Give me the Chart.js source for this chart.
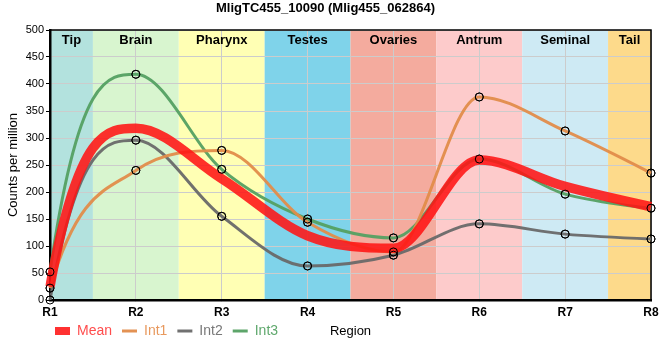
<!DOCTYPE html>
<html>
<head>
<meta charset="utf-8">
<script src="https://cdn.jsdelivr.net/npm/chart.js@4"></script>
<style>
html,body{margin:0;padding:0;background:#fff;}
</style>
</head>
<body>
<canvas id="chart" width="660" height="360"></canvas>
<script>

// =====================
// DATA
// =====================

const regions = ["R1","R2","R3","R4","R5","R6","R7","R8"];
const tissues = ["Tip","Brain","Pharynx","Testes","Ovaries","Antrum","Seminal","Tail"];

const meanVals = [24.7, 318, 224.7, 119, 95.7, 259.3, 210.3, 172.7];
const int1Vals = [22, 240, 277, 144, 89, 376, 313, 235];
const int2Vals = [0, 296, 155, 63, 83, 141, 122, 113];
const int3Vals = [52, 418, 242, 150, 115, 261, 196, 170];

const tissueColors = ["#b3e2de","#d8f5cf","#ffffb4","#7fd3ea","#f4ab9e","#fdcbcb","#ceeaf4","#fdda8b"];

const FONT = "'Liberation Sans', Arial, sans-serif";


// =====================
// SMOOTHING
// =====================

// control points 1/3 of the way to the neighbours, made parallel,
// and clamped so no false peaks appear between points
function controls(p0, p1, p2){
  const a = 1/3;
  let lx = p1.x + a*(p0.x-p1.x), ly = p1.y + a*(p0.y-p1.y);
  let rx = p1.x + a*(p2.x-p1.x), ry = p1.y + a*(p2.y-p1.y);
  if(lx !== rx){
    const d = p1.y - ry - (p1.x-rx)*(ly-ry)/(lx-rx);
    ly += d; ry += d;
  }
  if(ly > p0.y && ly > p1.y){ ly = Math.max(p0.y,p1.y); ry = 2*p1.y-ly; }
  else if(ly < p0.y && ly < p1.y){ ly = Math.min(p0.y,p1.y); ry = 2*p1.y-ly; }
  if(ry > p2.y && ry > p1.y){ ry = Math.max(p1.y,p2.y); ly = 2*p1.y-ry; }
  else if(ry < p2.y && ry < p1.y){ ry = Math.min(p1.y,p2.y); ly = 2*p1.y-ry; }
  return [lx,ly,rx,ry];
}

function smooth(pts){
  pts.forEach((p,i)=>{
    const prev = pts[i-1], next = pts[i+1];
    let c = (prev && next) ? controls(prev,p,next) : [p.x,p.y,p.x,p.y];
    p.cp1x = c[0]; p.cp1y = c[1];
    p.cp2x = c[2]; p.cp2y = c[3];
  });
  // first segment leaves at the height of the next control point
  if(pts.length > 2){
    pts[0].cp2x = pts[0].x + (pts[1].x-pts[0].x)/3;
    pts[0].cp2y = pts[1].cp1y;
  }
}


// =====================
// PLUGINS
// =====================

// coloured tissue bands behind the grid
const bands = {
  id:"bands",
  beforeDraw(chart){
    const {ctx, chartArea:a, scales:{x}} = chart;
    ctx.save();
    tissues.forEach((t,i)=>{
      let x0 = Math.max(a.left, x.getPixelForValue(i-0.5));
      let x1 = Math.min(a.right, x.getPixelForValue(i+0.5));
      ctx.fillStyle = tissueColors[i];
      ctx.fillRect(x0, a.top, x1-x0, a.bottom-a.top);
    });
    ctx.restore();
  },
  beforeDatasetsDraw(chart){
    const {ctx, chartArea:a, scales:{x}} = chart;

    chart.data.datasets.forEach((d,i)=>{
      const meta = chart.getDatasetMeta(i);
      meta.dataset.updateControlPoints(a, "x");
      smooth(meta.data);
    });

    ctx.save();
    ctx.font = "bold 13px " + FONT;
    ctx.fillStyle = "#000";
    ctx.textAlign = "center";
    ctx.textBaseline = "middle";
    tissues.forEach((t,i)=>{
      let x0 = Math.max(a.left, x.getPixelForValue(i-0.5));
      let x1 = Math.min(a.right, x.getPixelForValue(i+0.5));
      ctx.fillText(t, (x0+x1)/2, a.top+10);
    });
    // top and right frame
    ctx.strokeStyle = "#000";
    ctx.lineWidth = 1.5;
    ctx.beginPath();
    ctx.moveTo(a.left, a.top);
    ctx.lineTo(a.right, a.top);
    ctx.lineTo(a.right, a.bottom);
    ctx.stroke();
    ctx.restore();
  },
  afterDatasetsDraw(chart){
    // keep the markers above the thick mean line
    const ctx = chart.ctx;
    [1,2,3].forEach(i=>{
      chart.getDatasetMeta(i).data.forEach(p=>p.draw(ctx));
    });
  }
};

// legend starts under the plot, x title sits in the legend row
const legendRow = {
  id:"legendRow",
  afterLayout(chart){
    const lg = chart.legend;
    lg.left += 45;
    lg.top -= 8;
    lg.bottom -= 8;
  },
  afterDraw(chart){
    const {ctx, chartArea:a, legend} = chart;
    const box = legend.legendHitBoxes[0];
    ctx.save();
    ctx.font = "13px " + FONT;
    ctx.fillStyle = "#000";
    ctx.textAlign = "center";
    ctx.textBaseline = "middle";
    ctx.fillText("Region", (a.left+a.right)/2, box.top + box.height/2);
    ctx.restore();
  }
};


// =====================
// CHART
// =====================

const seriesColors = ["rgba(255,20,20,0.88)","rgba(226,140,74,0.95)","rgba(105,105,105,0.95)","rgba(84,160,98,0.95)"];
const textColors = ["#ff4d4d","#e8995e","#787878","#5fa86d"];

function line(label, data, color, width, markers){
  return {
    label:label,
    data:data,
    borderColor:color,
    backgroundColor:color,
    borderWidth:width,
    cubicInterpolationMode:"monotone",
    fill:false,
    pointRadius:markers ? 4 : 0,
    pointHoverRadius:markers ? 4 : 0,
    pointBackgroundColor:"rgba(0,0,0,0)",
    pointBorderColor:"#000",
    pointBorderWidth:1
  };
}

new Chart(document.getElementById("chart"), {
  type:"line",
  data:{
    labels:regions,
    datasets:[
      line("Mean", meanVals, seriesColors[0], 9.5, false),
      line("Int1", int1Vals, seriesColors[1], 3, true),
      line("Int2", int2Vals, seriesColors[2], 3, true),
      line("Int3", int3Vals, seriesColors[3], 3, true)
    ]
  },
  options:{
    responsive:false,
    animation:false,
    layout:{padding:{top:0,right:9,bottom:4,left:0}},
    plugins:{
      tooltip:{enabled:false},
      title:{
        display:true,
        text:"MligTC455_10090 (Mlig455_062864)",
        color:"#000",
        font:{family:FONT, size:13, weight:"bold"},
        padding:{top:1,bottom:13.4}
      },
      legend:{
        position:"bottom",
        align:"start",
        labels:{
          usePointStyle:true,
          pointStyleWidth:15,
          boxHeight:8,
          padding:10,
          font:{family:FONT, size:14},
          generateLabels(chart){
            return chart.data.datasets.map((d,i)=>({
              text:d.label,
              datasetIndex:i,
              pointStyle:i===0 ? "rect" : "line",
              fillStyle:seriesColors[i],
              strokeStyle:seriesColors[i],
              lineWidth:i===0 ? 0 : 3,
              fontColor:textColors[i],
              hidden:false
            }));
          }
        }
      }
    },
    scales:{
      x:{
        type:"category",
        offset:false,
        afterFit(scale){
          scale.height = 22;
          scale.paddingLeft = 0;
          scale.paddingRight = 0;
        },
        grid:{color:"#cccccc", lineWidth:1, tickLength:0},
        border:{color:"#000", width:2.5},
        ticks:{color:"#000", padding:5, font:{family:FONT, size:12, weight:"bold"}}
      },
      y:{
        min:0,
        max:500,
        afterFit(scale){ scale.width = 50; },
        grid:{color:"#cccccc", lineWidth:1, tickLength:4, tickColor:"#000"},
        border:{color:"#000", width:2.5},
        ticks:{stepSize:50, color:"#000", padding:2, font:{family:FONT, size:11}},
        title:{
          display:true,
          text:"Counts per million",
          color:"#000",
          font:{family:FONT, size:13},
          padding:{top:6,bottom:0}
        }
      }
    }
  },
  plugins:[bands, legendRow]
});

</script>
</body>
</html>
